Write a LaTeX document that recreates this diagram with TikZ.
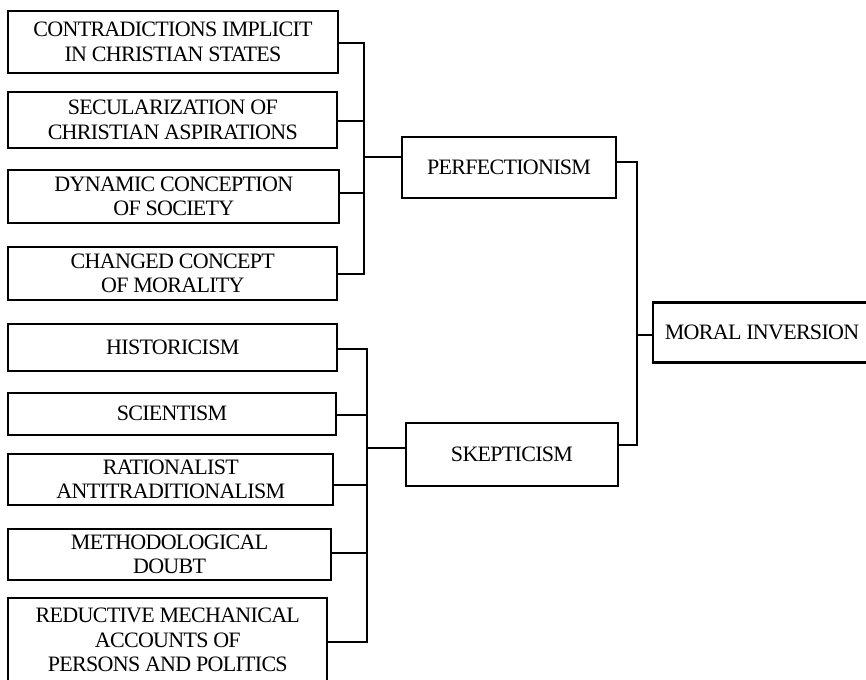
\documentclass[tikz,border=0pt]{standalone}
\usepackage{fontspec}
\setmainfont{Liberation Serif}[LetterSpace=-3.2]
\begin{document}
\begin{tikzpicture}[x=1pt,y=-1pt,
  box/.style={draw=black, line width=2.1pt, align=center, inner sep=0pt,
    font=\fontsize{22pt}{24.5pt}\selectfont},
  wire/.style={draw=black, line width=2.1pt}]
\useasboundingbox (0,0) rectangle (866,679);
\clip (0,0) rectangle (866,679);
% upper group
\node[box, minimum width=330pt, minimum height=62pt] (c1) at (173,42) {CONTRADICTIONS IMPLICIT\\IN CHRISTIAN STATES};
\node[box, minimum width=329pt, minimum height=56pt] (c2) at (172.8,120) {SECULARIZATION OF\\CHRISTIAN ASPIRATIONS};
\node[box, minimum width=331pt, minimum height=53pt] (c3) at (173.8,196.5) {DYNAMIC CONCEPTION\\OF SOCIETY};
\node[box, minimum width=329pt, minimum height=53pt] (c4) at (172.8,273.5) {CHANGED CONCEPT\\OF MORALITY};
\node[box, minimum width=214pt, minimum height=61pt] (perf) at (509,167.5) {PERFECTIONISM};
% lower group
\node[box, minimum width=329pt, minimum height=47pt] (h1) at (172.8,347.2) {HISTORICISM};
\node[box, minimum width=327.5pt, minimum height=42.5pt] (h2) at (172,413.8) {SCIENTISM};
\node[box, minimum width=325pt, minimum height=51.5pt] (h3) at (170.8,479.3) {RATIONALIST\\ANTITRADITIONALISM};
\node[box, minimum width=322.5pt, minimum height=51pt] (h4) at (169.6,554.3) {METHODOLOGICAL\\DOUBT};
\node[box, minimum width=319pt, minimum height=84pt] (h5) at (167.8,640) {REDUCTIVE MECHANICAL\\ACCOUNTS OF\\PERSONS AND POLITICS};
\node[box, minimum width=212pt, minimum height=63pt] (skep) at (512,454.2) {SKEPTICISM};
% result (right edge lies outside the picture)
\node[box, minimum width=227pt, minimum height=60pt] (moral) at (766.5,332.5) {MORAL INVERSION\hspace*{9pt}};
% upper bus
\coordinate (bu) at (364,157);
\draw[wire] (c1.east |- 0,43) -| (bu);
\draw[wire] (c2.east |- 0,121) -- (bu |- 0,121);
\draw[wire] (c3.east |- 0,193) -- (bu |- 0,193);
\draw[wire] (c4.east |- 0,274) -| (bu);
\draw[wire] (bu) -- (bu -| perf.west);
% lower bus
\coordinate (bl) at (366.7,448.3);
\draw[wire] (h1.east |- 0,349) -| (bl);
\draw[wire] (h2.east |- 0,415) -- (bl |- 0,415);
\draw[wire] (h3.east |- 0,485) -- (bl |- 0,485);
\draw[wire] (h4.east |- 0,552.7) -- (bl |- 0,552.7);
\draw[wire] (h5.east |- 0,642) -| (bl);
\draw[wire] (bl) -- (bl -| skep.west);
% right bus
\coordinate (bm) at (637,335);
\draw[wire] (perf.east |- 0,162) -| (bm);
\draw[wire] (skep.east |- 0,445) -| (bm);
\draw[wire] (bm) -- (bm -| moral.west);
\end{tikzpicture}
\end{document}
